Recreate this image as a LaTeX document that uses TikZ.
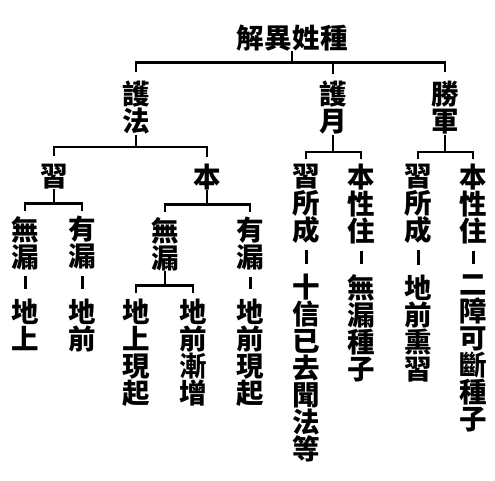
\documentclass[tikz,border=0pt]{standalone}
\usepackage{fontspec}
\newfontfamily\cjk{Noto Sans CJK TC}
\newcommand\vtopstrut{\rule{0pt}{24pt}}
\newcommand\vbotstrut{\rule[-3pt]{0pt}{3pt}}
\begin{document}
\begin{tikzpicture}[x=1pt,y=-1pt,
  lbl/.style={inner sep=0pt, anchor=north, align=center,
    font={\cjk\bfseries\fontsize{27.5}{27}\selectfont\lineskiplimit=-30pt},
    execute at begin node=\vtopstrut, execute at end node=\vbotstrut},
  tree/.style={line width=2.4pt, line join=miter},
  dashline/.style={line width=3pt, shorten <=6pt, shorten >=10pt}]
\useasboundingbox[fill=white] (0,0) rectangle (495,480);
% nodes
\node[lbl] (title) at (292,24) {解\kern0.5pt 異\kern0.5pt 姓\kern0.5pt 種};
\node[lbl] (hf) at (136,81) {護\\法};
\node[lbl] (hy) at (333,81) {護\\月};
\node[lbl] (sj) at (445,81) {勝\\軍};
\node[lbl] (xi) at (54,162) {習};
\node[lbl] (ben) at (207,163) {本};
\node[lbl] (wl1) at (25,216) {無\\漏};
\node[lbl] (yl1) at (82,216) {有\\漏};
\node[lbl] (ds1) at (25,299) {地\\上};
\node[lbl] (dq1) at (82,299) {地\\前};
\node[lbl] (wl2) at (165,217) {無\\漏};
\node[lbl] (yl2) at (250,217) {有\\漏};
\node[lbl] (a1) at (136,299) {地\\上\\現\\起};
\node[lbl] (a2) at (193,299) {地\\前\\漸\\增};
\node[lbl] (a3) at (250,299) {地\\前\\現\\起};
\node[lbl] (c1) at (306,164) {習\\所\\成};
\node[lbl] (c2) at (361,164) {本\\性\\住};
\node[lbl] (c3) at (418,164) {習\\所\\成};
\node[lbl] (c4) at (473,164) {本\\性\\住};
\node[lbl] (d1) at (306,274) {十\\信\\已\\去\\聞\\法\\等};
\node[lbl] (d2) at (361,274) {無\\漏\\種\\子};
\node[lbl] (d3) at (418,275) {地\\前\\熏\\習};
\node[lbl] (d4) at (473,274) {二\\障\\可\\斷\\種\\子};
% brackets
\coordinate (r0) at ([yshift=-11pt]title.south);
\draw[tree] (title.south) -- (r0);
\draw[tree] ([yshift=9pt]hf.north) |- (r0) -| ([yshift=9pt]sj.north);
\draw[tree] ([yshift=7pt]hy.north) -- (hy.north |- r0);
\coordinate (r1) at ([yshift=-12pt]hf.south);
\draw[tree] (hf.south) -- (r1);
\draw[tree] ([yshift=6pt]xi.north) |- (r1) -| ([yshift=6pt]ben.north);
\coordinate (r2) at ([yshift=-14pt]xi.south);
\draw[tree] (xi.south) -- (r2);
\draw[tree] ([yshift=5pt]wl1.north) |- (r2) -| ([yshift=5pt]yl1.north);
\coordinate (r3) at ([yshift=-14pt]ben.south);
\draw[tree] (ben.south) -- (r3);
\draw[tree] ([yshift=5pt]wl2.north) |- (r3) -| ([yshift=5pt]yl2.north);
\coordinate (r4) at ([yshift=-14pt]wl2.south);
\draw[tree] (wl2.south) -- (r4);
\draw[tree] ([yshift=6pt]a1.north) |- (r4) -| ([yshift=6pt]a2.north);
\coordinate (r5) at ([yshift=-17pt]hy.south);
\draw[tree] (hy.south) -- (r5);
\draw[tree] ([yshift=5pt]c1.north) |- (r5) -| ([yshift=5pt]c2.north);
\coordinate (r6) at ([yshift=-17pt]sj.south);
\draw[tree] (sj.south) -- (r6);
\draw[tree] ([yshift=5pt]c3.north) |- (r6) -| ([yshift=5pt]c4.north);
% dashes
\draw[dashline] (wl1.south) -- (ds1.north);
\draw[dashline] (yl1.south) -- (dq1.north);
\draw[dashline] (yl2.south) -- (a3.north);
\draw[dashline] (c1.south) -- (d1.north);
\draw[dashline] (c2.south) -- (d2.north);
\draw[dashline] (c3.south) -- (d3.north);
\draw[dashline] (c4.south) -- (d4.north);
\end{tikzpicture}
\end{document}
